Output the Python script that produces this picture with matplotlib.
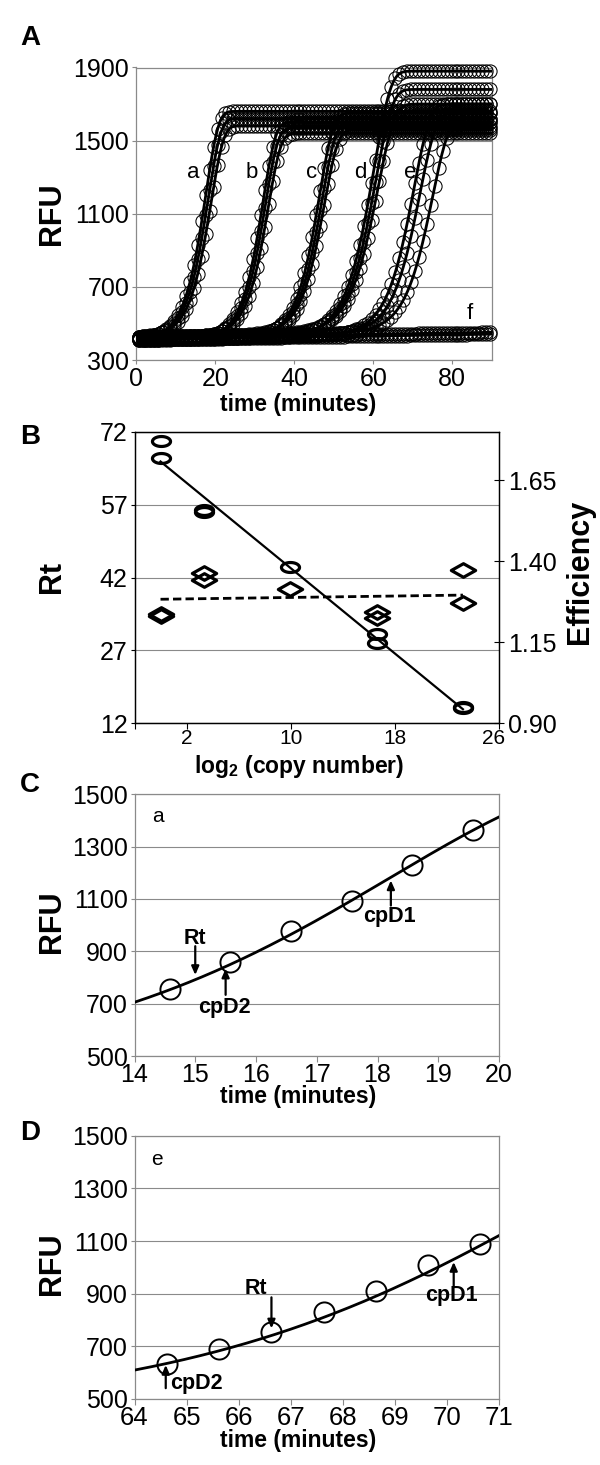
import numpy as np
import matplotlib
matplotlib.use('Agg')
import matplotlib.pyplot as plt
from matplotlib.path import Path
from matplotlib.transforms import ScaledTranslation

plt.rcParams.update({
    'font.family': ['Liberation Sans', 'DejaVu Sans'],
    'mathtext.fontset': 'custom',
    'mathtext.rm': 'Liberation Sans',
    'mathtext.bf': 'Liberation Sans:bold',
})

W, H = 600, 1465
GRID = '#8a8a8a'

# ---- Panel A: amplification curves (one entry per replicate) ----
curve_labels = ['a', 'b', 'c', 'd', 'e', 'f']
label_time = [14.4, 29.2, 44.4, 56.8, 69.3, 84.5]
label_rfu = [1325, 1325, 1325, 1325, 1325, 557]

rep_curve = ['a', 'a', 'a', 'b', 'b', 'b', 'c', 'c', 'c',
             'd', 'd', 'd', 'e', 'e', 'e', 'f', 'f']
rep_mid = [17.6, 18.2, 18.9, 32.1, 32.7, 33.4, 46.4, 47.0, 47.6,
           60.2, 60.7, 61.2, 70.3, 71.8, 75.0, np.inf, np.inf]
rep_scale = [3.2, 3.2, 3.2, 3.2, 3.2, 3.2, 3.5, 3.5, 3.5,
             4.2, 4.2, 4.2, 4.1, 4.1, 4.1, 1.0, 1.0]
rep_plateau = [1660, 1620, 1580, 1600, 1570, 1540, 1650, 1600, 1560,
               1880, 1780, 1700, 1700, 1650, 1620, 440, 440]
rep_base = [412, 418, 424, 408, 416, 422, 410, 418, 426,
            412, 420, 428, 414, 420, 426, 410, 420]
base_drift = 0.35   # RFU per minute
sample_times = np.arange(0.58, 90, 1.0)

# ---- Panel B: Rt and efficiency vs log2 copy number ----
b_log2 = [0, 0, 3.32, 3.32, 9.97, 16.61, 16.61, 23.25, 23.25]
b_rt = [70.1, 66.5, 55.9, 55.5, 44.1, 30.4, 28.6, 15.4, 15.1]
b_eff = [1.236, 1.230, 1.365, 1.342, 1.314, 1.243, 1.226, 1.373, 1.270]

# ---- Panel C: replicate of curve a ----
c_rep = 1
c_time = [14.58, 15.57, 16.58, 17.58, 18.57, 19.58]
c_rfu = [755, 860, 978, 1091, 1229, 1362]
c_rt, c_cpd2, c_cpd1 = 15.0, 15.5, 18.22

# ---- Panel D: replicate of curve e ----
d_rep = 13
d_time = [64.63, 65.63, 66.63, 67.63, 68.63, 69.63, 70.63]
d_rfu = [634, 689, 755, 830, 912, 1010, 1090]
d_rt, d_cpd2, d_cpd1 = 66.63, 64.6, 70.13


def model(t, k):
    t = np.asarray(t, dtype=float)
    base = rep_base[k] + base_drift * t
    frac = 1 - np.exp(-np.exp((t - rep_mid[k]) / rep_scale[k]))
    return base + (rep_plateau[k] - base) * frac


fig = plt.figure(figsize=(W / 100, H / 100), dpi=100)


def add_axes(left, top, right, bottom):
    return fig.add_axes([left / W, 1 - bottom / H, (right - left) / W, (bottom - top) / H])


def ftext(x, y, s, **kw):
    fig.text(x / W, 1 - y / H, s, **kw)


def box(ax, color):
    for sp in ax.spines.values():
        sp.set_color(color)
        sp.set_linewidth(0.9)


def arrow(ax, x, y_tip, y_tail):
    ax.annotate('', xy=(x, y_tip), xytext=(x, y_tail),
                arrowprops=dict(arrowstyle='-|>,head_length=0.5,head_width=0.22',
                                color='k', lw=1.6, shrinkA=0, shrinkB=0))


# ================= A =================
axA = add_axes(136.3, 67.5, 491.7, 360)
t_fine = np.linspace(0.3, 89.8, 600)
for k in range(len(rep_curve)):
    axA.plot(sample_times, model(sample_times, k), 'o', ms=9.5, mfc='none',
             mec='k', mew=0.75, clip_on=False, zorder=3)
for k in range(len(rep_curve)):
    axA.plot(t_fine, model(t_fine, k), '-', color='k', lw=2, zorder=4)
for lab, tx, ty in zip(curve_labels, label_time, label_rfu):
    axA.text(tx, ty, lab, fontsize=16, ha='center', va='center', zorder=5)
axA.set_xlim(0, 90)
axA.set_ylim(300, 1900)
axA.set_xticks([0, 20, 40, 60, 80])
axA.set_yticks([300, 700, 1100, 1500, 1900])
axA.grid(axis='y', color=GRID, lw=0.8)
axA.set_axisbelow(True)
axA.tick_params(direction='out', length=3, color=GRID, labelsize=18, pad=2)
box(axA, GRID)
ftext(20, 38, 'A', fontsize=20, fontweight='bold', ha='left', va='center')
ftext(52, 214, 'RFU', fontsize=22, fontweight='bold', rotation=90, ha='center', va='center')
ftext(298, 404, 'time (minutes)', fontsize=16.5, fontweight='bold', ha='center', va='center')

# ================= B =================
theta = np.linspace(0, 2 * np.pi, 61)
ellipse = Path(np.column_stack([np.cos(theta), 0.55 * np.sin(theta)]), closed=True)
diamond = Path([(1, 0), (0, 0.56), (-1, 0), (0, -0.56), (1, 0)], closed=True)

axB = add_axes(134.5, 431.7, 498.7, 723.3)
axB.plot(b_log2, b_rt, ls='none', marker=ellipse, ms=13, mfc='none', mec='k',
         mew=2.3, clip_on=False, zorder=4)
slope, icpt = np.polyfit(b_log2, b_rt, 1)
xfit = np.array([min(b_log2), max(b_log2)])
axB.plot(xfit, icpt + slope * xfit, 'k-', lw=1.6, zorder=3)
axB.set_xlim(-2, 26)
axB.set_ylim(12, 72)
axB.set_xticks([-2, 2, 10, 18, 26])
axB.set_xticklabels(['', '2', '10', '18', '26'])
axB.set_yticks([12, 27, 42, 57, 72])
axB.grid(axis='y', color=GRID, lw=0.8)
axB.set_axisbelow(True)
axB.tick_params(axis='y', direction='out', length=3, labelsize=18, pad=2)
axB.tick_params(axis='x', direction='out', length=4, labelsize=15, pad=0)
box(axB, 'k')
# last x label sits a little left of its tick, clear of the right-axis labels
last = axB.get_xticklabels()[-1]
last.set_transform(last.get_transform() + ScaledTranslation(-5 / 100, 0, fig.dpi_scale_trans))

axB2 = axB.twinx()
axB2.plot(b_log2, b_eff, ls='none', marker=diamond, ms=17.5, mfc='none', mec='k',
          mew=2.3, clip_on=False, zorder=4)
e_slope, e_icpt = np.polyfit(b_log2, b_eff, 1)
axB2.plot(xfit, e_icpt + e_slope * xfit, color='k', lw=2, ls=(0, (3, 1.5)), zorder=3)
axB2.set_ylim(0.90, 1.80)
axB2.set_yticks([0.90, 1.15, 1.40, 1.65])
axB2.set_yticklabels(['0.90', '1.15', '1.40', '1.65'])
axB2.tick_params(axis='y', direction='inout', length=7, labelsize=18, pad=3)
box(axB2, 'k')
ftext(20, 437, 'B', fontsize=20, fontweight='bold', ha='left', va='center')
ftext(52, 577, 'Rt', fontsize=22, fontweight='bold', rotation=90, ha='center', va='center')
ftext(580, 572, 'Efficiency', fontsize=22, fontweight='bold', rotation=90,
      ha='center', va='center')
ftext(299, 766, r'log$_{\mathbf{2}}$ (copy number)', fontsize=16.5, fontweight='bold',
      ha='center', va='center')


def detail_panel(top, bottom, times, rfu, rep, xlim, xtick_size):
    ax = add_axes(134.5, top, 499, bottom)
    ax.plot(times, rfu, 'o', ms=14.5, mfc='none', mec='k', mew=1.4, clip_on=False, zorder=4)
    tt = np.linspace(xlim[0], xlim[1], 300)
    ax.plot(tt, model(tt, rep), 'k-', lw=2, zorder=3)
    ax.set_xlim(*xlim)
    ax.set_ylim(500, 1500)
    ax.set_xticks(np.arange(xlim[0], xlim[1] + 1))
    ax.set_yticks(np.arange(500, 1501, 200))
    ax.grid(axis='y', color=GRID, lw=0.8)
    ax.set_axisbelow(True)
    ax.tick_params(axis='y', direction='out', length=3, color=GRID, labelsize=18, pad=2)
    ax.tick_params(axis='x', direction='out', length=4, color=GRID, labelsize=xtick_size, pad=1)
    box(ax, GRID)
    return ax


# ================= C =================
axC = detail_panel(794.3, 1056, c_time, c_rfu, c_rep, (14, 20), 18)
axC.text(14.38, 1417, 'a', fontsize=15, ha='center', va='center')
y = float(model(c_rt, c_rep))
arrow(axC, c_rt, y + 18, y + 128)
axC.text(c_rt, y + 157, 'Rt', fontsize=15.5, fontweight='bold', ha='center', va='center')
y = float(model(c_cpd2, c_rep))
arrow(axC, c_cpd2, y - 8, y - 108)
axC.text(c_cpd2 - 0.02, y - 155, 'cpD2', fontsize=15.5, fontweight='bold', ha='center', va='center')
y = float(model(c_cpd1, c_rep))
arrow(axC, c_cpd1, y - 12, y - 108)
axC.text(c_cpd1 - 0.03, y - 148, 'cpD1', fontsize=15.5, fontweight='bold', ha='center', va='center')
ftext(20, 785, 'C', fontsize=20, fontweight='bold', ha='left', va='center')
ftext(52, 922, 'RFU', fontsize=22, fontweight='bold', rotation=90, ha='center', va='center')
ftext(298, 1096, 'time (minutes)', fontsize=16.5, fontweight='bold', ha='center', va='center')

# ================= D =================
axD = detail_panel(1135.7, 1399, d_time, d_rfu, d_rep, (64, 71), 18.5)
axD.text(64.43, 1410, 'e', fontsize=15, ha='center', va='center')
y = float(model(d_rt, d_rep))
arrow(axD, d_rt, y + 27, y + 145)
axD.text(d_rt - 0.3, y + 178, 'Rt', fontsize=15.5, fontweight='bold', ha='center', va='center')
y = float(model(d_cpd2, d_rep))
arrow(axD, d_cpd2, y - 5, y - 93)
axD.text(d_cpd2 + 0.09, y - 74, 'cpD2', fontsize=15.5, fontweight='bold', ha='left', va='center')
y = float(model(d_cpd1, d_rep))
arrow(axD, d_cpd1, y - 10, y - 104)
axD.text(d_cpd1 - 0.04, y - 138, 'cpD1', fontsize=15.5, fontweight='bold', ha='center', va='center')
ftext(20, 1133, 'D', fontsize=20, fontweight='bold', ha='left', va='center')
ftext(52, 1264, 'RFU', fontsize=22, fontweight='bold', rotation=90, ha='center', va='center')
ftext(298, 1441, 'time (minutes)', fontsize=16.5, fontweight='bold', ha='center', va='center')

fig.savefig('out.png', dpi=100)
